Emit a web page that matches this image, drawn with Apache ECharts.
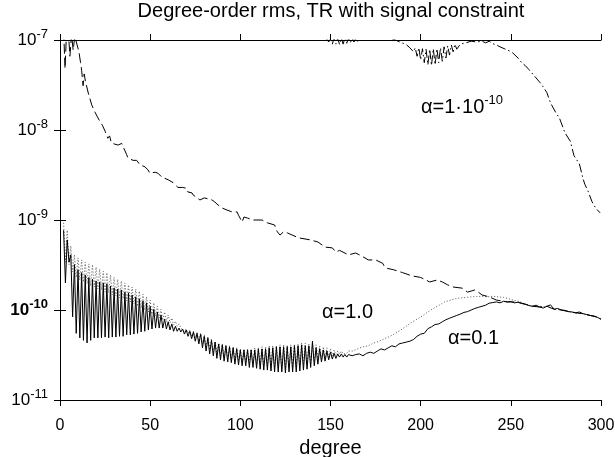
<!DOCTYPE html>
<html>
<head>
<meta charset="utf-8">
<title>Degree-order rms</title>
<script src="https://cdn.jsdelivr.net/npm/echarts@6/dist/echarts.min.js"></script>
<style>
html, body { margin: 0; padding: 0; background: #fff; }
#main { width: 615px; height: 457px; }
</style>
</head>
<body>
<div id="main"></div>
<script>
// x axis ticks (degree)
var xTicks = [0, 50, 100, 150, 200, 250, 300];
// y axis decades
var yTicks = [1e-11, 1e-10, 1e-9, 1e-8, 1e-7];

// alpha = 0.1 (solid), one value per degree from 2 to 160
var solidHeadStart = 2;
var solidHead = [
	7.7e-10, 2.0e-10, 6.0e-10, 3.4e-10, 4.1e-10, 8.4e-11, 3.2e-10, 5.5e-11, 2.8e-10, 4.9e-11,
	2.6e-10, 4.6e-11, 2.45e-10, 4.3e-11, 2.3e-10, 4.6e-11, 2.2e-10, 4.9e-11, 2.1e-10, 4.9e-11,
	2.05e-10, 4.9e-11, 2.0e-10, 5.0e-11, 1.95e-10, 4.9e-11, 1.85e-10, 5.0e-11, 1.76e-10, 5.0e-11,
	1.71e-10, 5.1e-11, 1.67e-10, 5.1e-11, 1.58e-10, 5.3e-11, 1.55e-10, 5.3e-11, 1.47e-10, 5.4e-11,
	1.4e-10, 5.5e-11, 1.33e-10, 5.7e-11, 1.26e-10, 5.8e-11, 1.2e-10, 6.0e-11, 1.1e-10, 6.15e-11,
	1.02e-10, 6.3e-11, 9.5e-11, 6.3e-11, 8.8e-11, 6.3e-11, 7.9e-11, 6.15e-11, 7.4e-11, 6.0e-11,
	7.0e-11, 5.8e-11, 6.6e-11, 5.8e-11, 6.3e-11, 5.7e-11, 6.15e-11, 5.4e-11, 6.0e-11, 5.1e-11,
	5.8e-11, 4.8e-11, 5.7e-11, 4.5e-11, 5.5e-11, 4.2e-11, 5.4e-11, 3.8e-11, 5.1e-11, 3.5e-11,
	4.9e-11, 3.25e-11, 4.6e-11, 3.1e-11, 4.4e-11, 2.9e-11, 4.2e-11, 2.8e-11, 4.1e-11, 2.7e-11,
	4.0e-11, 2.65e-11, 3.9e-11, 2.6e-11, 3.8e-11, 2.5e-11, 3.7e-11, 2.45e-11, 3.6e-11, 2.4e-11,
	3.6e-11, 2.4e-11, 3.6e-11, 2.3e-11, 3.6e-11, 2.3e-11, 3.6e-11, 2.25e-11, 3.7e-11, 2.2e-11,
	3.7e-11, 2.15e-11, 3.7e-11, 2.15e-11, 3.8e-11, 2.1e-11, 3.8e-11, 2.05e-11, 3.9e-11, 2.05e-11,
	3.9e-11, 2.05e-11, 3.9e-11, 2.0e-11, 3.9e-11, 2.05e-11, 3.9e-11, 2.05e-11, 4.0e-11, 2.05e-11,
	4.0e-11, 2.1e-11, 4.1e-11, 2.15e-11, 4.0e-11, 2.2e-11, 4.0e-11, 2.3e-11, 4.5e-11, 2.4e-11,
	3.8e-11, 2.5e-11, 3.7e-11, 2.65e-11, 3.6e-11, 2.7e-11, 3.5e-11, 2.8e-11, 3.4e-11, 2.85e-11,
	3.3e-11, 2.9e-11, 3.25e-11, 3.0e-11, 3.25e-11, 3.0e-11, 3.2e-11, 3.0e-11, 3.2e-11
];
var solidTailDeg = [162, 164, 166, 168, 170, 172, 174, 176, 178, 180, 182, 184, 186, 188, 190, 192, 194, 196, 198, 200,
	202, 204, 206, 208, 210, 212, 214, 216, 218, 220, 222, 224, 226, 228, 230, 232, 234, 236, 238, 240,
	242, 244, 246, 248, 250, 252, 254, 256, 258, 260, 262, 264, 266, 268, 270, 272, 274, 276, 278, 280,
	282, 284, 286, 288, 290, 292, 294, 296, 298, 300];
var solidTailVal = [3.1e-11, 3.2e-11, 3.25e-11, 3.1e-11, 3.3e-11, 3.4e-11, 3.3e-11, 3.5e-11, 3.7e-11, 3.6e-11,
	3.8e-11, 4.0e-11, 3.9e-11, 4.2e-11, 4.3e-11, 4.4e-11, 4.5e-11, 4.7e-11, 5.1e-11, 5.4e-11,
	5.5e-11, 6.2e-11, 6.5e-11, 6.9e-11, 7.0e-11, 7.4e-11, 7.8e-11, 8.1e-11, 8.4e-11, 8.7e-11,
	9.0e-11, 9.4e-11, 9.6e-11, 1.0e-10, 1.04e-10, 1.07e-10, 1.1e-10, 1.13e-10, 1.19e-10, 1.21e-10,
	1.23e-10, 1.2e-10, 1.25e-10, 1.23e-10, 1.24e-10, 1.2e-10, 1.22e-10, 1.18e-10, 1.16e-10, 1.12e-10,
	1.1e-10, 1.13e-10, 1.08e-10, 1.05e-10, 1.1e-10, 1.14e-10, 1.02e-10, 1.04e-10, 1.0e-10, 9.9e-11,
	9.6e-11, 9.5e-11, 9.3e-11, 9.5e-11, 9.1e-11, 8.9e-11, 8.7e-11, 8.6e-11, 8.3e-11, 7.9e-11];

// alpha = 1.0 (dotted), one value per degree from 2 to 160
var dotHeadStart = 2;
var dotHead = [
	9.3e-10, 3.4e-10, 7.7e-10, 3.2e-10, 5.15e-10, 2.65e-10, 4.1e-10, 2.3e-10, 3.8e-10, 2.15e-10,
	3.6e-10, 2.05e-10, 3.4e-10, 1.95e-10, 3.25e-10, 1.85e-10, 3.2e-10, 1.8e-10, 3.0e-10, 1.71e-10,
	2.85e-10, 1.67e-10, 2.7e-10, 1.58e-10, 2.6e-10, 1.55e-10, 2.45e-10, 1.47e-10, 2.3e-10, 1.43e-10,
	2.2e-10, 1.36e-10, 2.1e-10, 1.33e-10, 2.0e-10, 1.26e-10, 1.9e-10, 1.23e-10, 1.8e-10, 1.17e-10,
	1.71e-10, 1.1e-10, 1.62e-10, 1.05e-10, 1.5e-10, 1.0e-10, 1.4e-10, 9.5e-11, 1.29e-10, 9.0e-11,
	1.2e-10, 8.6e-11, 1.1e-10, 8.15e-11, 1.02e-10, 7.7e-11, 9.5e-11, 7.4e-11, 8.8e-11, 7.2e-11,
	8.15e-11, 6.8e-11, 7.5e-11, 6.6e-11, 7.0e-11, 6.3e-11, 6.5e-11, 5.8e-11, 6.15e-11, 5.5e-11,
	6.0e-11, 5.1e-11, 5.8e-11, 4.9e-11, 5.7e-11, 4.5e-11, 5.5e-11, 4.2e-11, 5.3e-11, 3.9e-11,
	5.0e-11, 3.6e-11, 4.8e-11, 3.4e-11, 4.5e-11, 3.25e-11, 4.3e-11, 3.1e-11, 4.2e-11, 3.0e-11,
	4.1e-11, 2.9e-11, 4.0e-11, 2.85e-11, 3.9e-11, 2.8e-11, 3.8e-11, 2.7e-11, 3.7e-11, 2.65e-11,
	3.7e-11, 2.65e-11, 3.7e-11, 2.6e-11, 3.7e-11, 2.6e-11, 3.8e-11, 2.5e-11, 3.8e-11, 2.45e-11,
	3.9e-11, 2.4e-11, 3.9e-11, 2.4e-11, 4.0e-11, 2.3e-11, 4.0e-11, 2.3e-11, 4.0e-11, 2.25e-11,
	4.1e-11, 2.25e-11, 4.1e-11, 2.25e-11, 4.1e-11, 2.25e-11, 4.1e-11, 2.3e-11, 4.2e-11, 2.3e-11,
	4.2e-11, 2.4e-11, 4.3e-11, 2.45e-11, 4.3e-11, 2.5e-11, 4.2e-11, 2.6e-11, 4.2e-11, 2.65e-11,
	4.1e-11, 2.8e-11, 4.0e-11, 2.85e-11, 3.9e-11, 2.9e-11, 3.8e-11, 3.0e-11, 3.7e-11, 3.1e-11,
	3.6e-11, 3.2e-11, 3.5e-11, 3.25e-11, 3.5e-11, 3.25e-11, 3.4e-11, 3.3e-11, 3.5e-11
];
var dotTailDeg = [162, 165, 168, 171, 174, 177, 180, 183, 186, 189, 192, 195, 198, 201, 204, 207, 210, 213, 216, 219,
	222, 225, 228, 231, 234, 237, 240, 243, 246, 249, 252, 255, 258, 262, 266, 270, 274, 278, 282, 286,
	290, 294, 298, 300];
var dotTailVal = [3.5e-11, 3.7e-11, 3.9e-11, 4.0e-11, 4.3e-11, 4.5e-11, 4.8e-11, 5.1e-11, 5.5e-11, 6.0e-11,
	6.6e-11, 7.3e-11, 7.9e-11, 8.6e-11, 9.5e-11, 1.04e-10, 1.12e-10, 1.22e-10, 1.28e-10, 1.33e-10,
	1.36e-10, 1.38e-10, 1.4e-10, 1.41e-10, 1.42e-10, 1.4e-10, 1.42e-10, 1.4e-10, 1.38e-10, 1.33e-10,
	1.28e-10, 1.24e-10, 1.16e-10, 1.1e-10, 1.08e-10, 1.1e-10, 1.02e-10, 1.0e-10, 9.6e-11, 9.3e-11,
	9.1e-11, 8.7e-11, 8.3e-11, 7.9e-11];

// long dashed curve
var dashDeg = [2, 2.8, 3.6, 4.8, 5.5, 6.4, 7.3, 8.2, 9.2, 10.5, 11.4, 12, 12.8, 13.4, 14.2, 15.7, 17.6, 19.4, 20.5, 21.5,
	22, 23.5, 25, 26.5, 27.5, 28.5, 30, 32.3, 34.2, 37, 37.7, 40.5, 41.6, 42.5, 44.4, 47.1, 48.8, 49.9, 52.7, 54.4,
	56.4, 60, 62.7, 65.4, 68, 70.2, 70.9, 73.2, 73.8, 77.6, 80, 82, 84.3, 85.9, 87.6, 89.9, 92.6, 95.4, 98.2, 99,
	101, 102, 104, 107, 112, 115, 119, 120.5, 122, 124, 126, 131, 133, 139, 143, 147, 151, 153, 155, 160,
	164, 168, 171, 175, 179, 180, 181.5, 185, 190, 195, 200, 205, 209, 212, 215, 218, 223, 226, 230, 232,
	234, 238, 242, 248, 251, 254, 258, 262, 266, 270, 274, 278, 282, 286, 290, 294, 298, 300];
var dashVal = [1.3e-7, 4.8e-8, 1.2e-7, 1.1e-7, 6.6e-8, 1.15e-7, 7.7e-8, 1.1e-7, 1.05e-7, 7.4e-8, 5.6e-8, 4.6e-8, 3.1e-8, 4.2e-8, 3.4e-8, 2.57e-8, 1.9e-8, 1.58e-8, 1.43e-8, 1.47e-8,
	1.26e-8, 1.13e-8, 9.7e-9, 8.1e-9, 8.6e-9, 7.2e-9, 7.0e-9, 6.8e-9, 7.1e-9, 5.3e-9, 4.9e-9, 4.6e-9, 4.4e-9, 4.6e-9, 4.1e-9, 3.9e-9, 3.6e-9, 3.3e-9, 3.4e-9, 3.3e-9,
	3.0e-9, 2.8e-9, 2.6e-9, 2.3e-9, 2.3e-9, 2.25e-9, 2.05e-9, 2.0e-9, 1.9e-9, 1.67e-9, 1.76e-9, 1.72e-9, 1.67e-9, 1.58e-9, 1.47e-9, 1.36e-9, 1.29e-9, 1.23e-9, 1.23e-9, 1.13e-9,
	9.5e-10, 1.08e-9, 1.05e-9, 1.0e-9, 1.0e-9, 9.3e-10, 8.8e-10, 7.4e-10, 6.8e-10, 7.4e-10, 7.2e-10, 6.5e-10, 6.3e-10, 6.0e-10, 5.7e-10, 5.0e-10, 4.9e-10, 4.4e-10, 4.6e-10, 4.1e-10,
	4.3e-10, 3.9e-10, 3.6e-10, 3.6e-10, 3.3e-10, 3.0e-10, 2.9e-10, 2.8e-10, 2.6e-10, 2.4e-10, 2.3e-10, 2.05e-10, 2.15e-10, 2.05e-10, 1.9e-10, 1.8e-10, 1.75e-10, 1.58e-10, 1.67e-10, 1.58e-10,
	1.47e-10, 1.4e-10, 1.29e-10, 1.23e-10, 1.23e-10, 1.22e-10, 1.16e-10, 1.1e-10, 1.08e-10, 1.1e-10, 1.02e-10, 1.0e-10, 9.6e-11, 9.3e-11, 9.1e-11, 8.7e-11, 8.3e-11, 7.9e-11];

// alpha = 1e-10 (dash-dot), mostly above the top of the frame
var dashDotDeg = [140, 146, 149, 150, 151, 152, 153, 154, 155, 156, 157, 158, 159, 160, 161, 162, 163, 164, 165, 167,
	175, 183, 186, 189, 192, 194, 195, 196, 197, 198, 199, 200, 201, 202, 203, 204, 205, 206, 207, 208,
	209, 210, 211, 212, 213, 214, 215, 216, 217, 218, 219, 220, 222, 225, 228, 231, 234, 236, 238, 240,
	242, 244, 245, 247, 249, 251, 254, 256, 258, 260, 263, 266, 268, 270, 272, 275, 277, 280, 283, 285,
	288, 290, 291, 293, 295, 297, 299.5];
var dashDotVal = [1.4e-7, 1.15e-7, 9.5e-8, 1.05e-7, 9.0e-8, 1.05e-7, 9.0e-8, 1.05e-7, 8.9e-8, 1.05e-7, 9.0e-8, 1.05e-7, 9.2e-8, 1.05e-7, 9.3e-8, 1.05e-7, 9.5e-8, 1.04e-7, 9.6e-8, 1.08e-7,
	1.2e-7, 1.05e-7, 1.0e-7, 9.4e-8, 8.9e-8, 8.2e-8, 8.4e-8, 7.4e-8, 8.2e-8, 6.6e-8, 8.2e-8, 6.0e-8, 8.0e-8, 5.6e-8, 7.9e-8, 5.3e-8, 7.9e-8, 5.2e-8, 8.0e-8, 5.3e-8,
	8.0e-8, 5.6e-8, 8.2e-8, 5.8e-8, 8.4e-8, 6.3e-8, 8.6e-8, 6.8e-8, 8.8e-8, 7.4e-8, 9.0e-8, 7.9e-8, 9.0e-8, 9.3e-8, 9.7e-8, 9.5e-8, 9.7e-8, 9.3e-8, 9.7e-8, 9.1e-8,
	8.8e-8, 8.4e-8, 8.7e-8, 7.9e-8, 7.6e-8, 7.2e-8, 6.3e-8, 5.6e-8, 5.2e-8, 4.7e-8, 4.0e-8, 3.4e-8, 3.0e-8, 2.6e-8, 2.0e-8, 1.55e-8, 1.35e-8, 9.3e-9, 7.5e-9, 5.2e-9,
	4.2e-9, 2.9e-9, 2.5e-9, 2.05e-9, 1.6e-9, 1.36e-9, 1.2e-9];

function headPairs(start, vals) {
	var out = [];
	for (var i = 0; i < vals.length; i++) {
		out.push([start + i, vals[i]]);
	}
	return out;
}
function zipPairs(xs, ys) {
	var out = [];
	for (var i = 0; i < xs.length; i++) {
		out.push([xs[i], ys[i]]);
	}
	return out;
}

var solidData = headPairs(solidHeadStart, solidHead).concat(zipPairs(solidTailDeg, solidTailVal));
var dotData = headPairs(dotHeadStart, dotHead).concat(zipPairs(dotTailDeg, dotTailVal));
var dashData = zipPairs(dashDeg, dashVal);
var dashDotData = zipPairs(dashDotDeg, dashDotVal);

var FONT = 'Liberation Sans, Arial, sans-serif';

var chart = echarts.init(document.getElementById('main'), null, { renderer: 'canvas' });

var axisBase = {
	axisLine: { show: true, lineStyle: { color: '#000', width: 1 } },
	axisTick: { show: true, inside: false, length: 6, lineStyle: { color: '#000', width: 1 } },
	splitLine: { show: false },
	minorTick: { show: false }
};

var option = {
	animation: false,
	backgroundColor: '#fff',
	textStyle: { fontFamily: FONT },
	title: {
		text: 'Degree-order rms, TR with signal constraint',
		left: 331,
		top: 1,
		padding: 0,
		textAlign: 'center',
		textStyle: { fontSize: 20, fontWeight: 'normal', color: '#000', fontFamily: FONT }
	},
	grid: { left: 60, right: 14, top: 40, bottom: 57, containLabel: false, outerBoundsMode: 'none' },
	xAxis: [
		Object.assign({}, axisBase, {
			type: 'value',
			position: 'bottom',
			min: xTicks[0],
			max: xTicks[xTicks.length - 1],
			interval: xTicks[1] - xTicks[0],
			name: 'degree',
			nameLocation: 'middle',
			nameGap: 37,
			nameTextStyle: { fontSize: 20, color: '#000', fontFamily: FONT },
			axisLabel: { fontSize: 16, color: '#000', margin: 18, fontFamily: FONT }
		}),
		Object.assign({}, axisBase, {
			type: 'value',
			position: 'top',
			min: xTicks[0],
			max: xTicks[xTicks.length - 1],
			interval: xTicks[1] - xTicks[0],
			axisLabel: { show: false }
		})
	],
	yAxis: [
		Object.assign({}, axisBase, {
			type: 'log',
			logBase: 10,
			position: 'left',
			min: yTicks[0],
			max: yTicks[yTicks.length - 1],
			splitNumber: yTicks.length - 1,
			axisLabel: {
				margin: 12,
				color: '#000',
				formatter: function (v) {
					var e = Math.round(Math.log10(v));
					if (e === -10) return '{bb|10}{sb|' + e + '}';
					return '{b|10}{s|' + e + '}';
				},
				rich: {
					b: { fontSize: 17, lineHeight: 24, color: '#000', fontFamily: FONT },
					s: { fontSize: 13, lineHeight: 14, verticalAlign: 'top', color: '#000', fontFamily: FONT },
					bb: { fontSize: 17, lineHeight: 24, color: '#000', fontWeight: 'bold', fontFamily: FONT },
					sb: { fontSize: 13, lineHeight: 14, verticalAlign: 'top', color: '#000', fontWeight: 'bold', fontFamily: FONT }
				}
			}
		}),
		Object.assign({}, axisBase, {
			type: 'log',
			logBase: 10,
			position: 'right',
			min: yTicks[0],
			max: yTicks[yTicks.length - 1],
			splitNumber: yTicks.length - 1,
			axisLabel: { show: false }
		})
	],
	series: [
		{
			name: 'alpha=1.0',
			type: 'line',
			data: dotData,
			showSymbol: false,
			symbol: 'none',
			silent: true,
			lineStyle: { color: '#555', width: 1, type: [1, 2] },
			z: 2
		},
		{
			name: 'alpha=0.1',
			type: 'line',
			data: solidData,
			showSymbol: false,
			symbol: 'none',
			silent: true,
			lineStyle: { color: '#000', width: 1, type: 'solid' },
			z: 3
		},
		{
			name: 'dashed',
			type: 'line',
			data: dashData,
			showSymbol: false,
			symbol: 'none',
			silent: true,
			lineStyle: { color: '#000', width: 1, type: [10, 4] },
			z: 4
		},
		{
			name: 'alpha=1e-10',
			type: 'line',
			data: dashDotData,
			showSymbol: false,
			symbol: 'none',
			silent: true,
			lineStyle: { color: '#000', width: 1, type: [9, 3, 1.5, 3] },
			z: 4
		}
	],
	graphic: [
		{
			type: 'text', left: 421, top: 94, silent: true,
			style: {
				text: '{a|α=1·10}{s|-10}',
				rich: {
					a: { fontSize: 20, lineHeight: 26, fill: '#000', fontFamily: FONT },
					s: { fontSize: 13, lineHeight: 15, verticalAlign: 'top', fill: '#000', fontFamily: FONT }
				}
			}
		},
		{
			type: 'text', left: 322, top: 302, silent: true,
			style: { text: 'α=1.0', fontSize: 20, fill: '#000', fontFamily: FONT }
		},
		{
			type: 'text', left: 448, top: 328, silent: true,
			style: { text: 'α=0.1', fontSize: 20, fill: '#000', fontFamily: FONT }
		}
	]
};

chart.setOption(option);
</script>
</body>
</html>
